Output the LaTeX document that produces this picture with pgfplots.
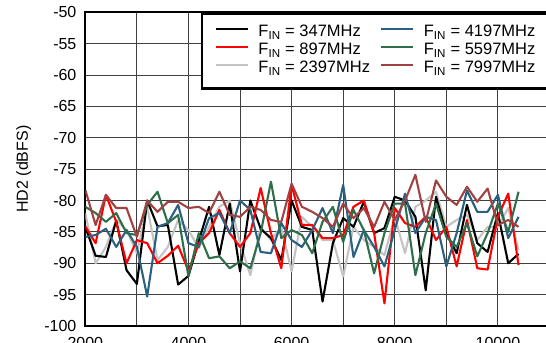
\documentclass[border=0pt]{standalone}
\usepackage{fontspec}
\setmainfont{Liberation Sans}
\usepackage{pgfplots}
\pgfplotsset{compat=1.18}
\definecolor{cblue}{HTML}{2A6080}
\definecolor{cgreen}{HTML}{2E6E4A}
\definecolor{cbrown}{HTML}{A04242}
\definecolor{cgray}{HTML}{C4C4C4}
\definecolor{cred}{HTML}{FF0000}
\begin{document}
\begin{tikzpicture}
\useasboundingbox (-85.3bp,-17bp) rectangle (460.7bp,326bp);
\clip (-85.3bp,-17bp) rectangle (460.7bp,326bp);
\begin{axis}[
  at={(0,0)}, anchor=south west,
  scale only axis, width=464.2bp, height=313.7bp,
  xmin=2000, xmax=11000, ymin=-100, ymax=-50,
  xtick={2000,4000,6000,8000,10000},
  xticklabels={2000,4000,6000,8000,10000},
  scaled x ticks=false,
  minor xtick={3000,5000,7000,9000,11000},
  ytick={-100,-95,...,-50},
  grid=both,
  major grid style={black!75, line width=0.9bp},
  minor grid style={black!75, line width=0.9bp},
  axis line style={line width=2.2bp},
  major tick length=0pt, minor tick length=0pt,
  tick label style={font=\fontsize{16bp}{19bp}\selectfont},
  /pgf/number format/assume math mode=true,
  /pgf/number format/1000 sep={},
  yticklabel style={inner sep=0pt, xshift=-8.7bp},
  xticklabel style={inner sep=0pt, yshift=-11.5bp},
  ylabel={HD2 (dBFS)},
  every axis y label/.style={at={(axis description cs:-0.116,0.5)}, rotate=90, anchor=south, inner sep=0pt, font=\fontsize{16bp}{19bp}\selectfont},
  legend columns=2,
  legend cell align=left,
  legend image code/.code={\draw[#1] (0bp,4bp) -- (32bp,4bp);},
  legend style={at={(1,1)}, anchor=north east, draw=black, line width=2.2bp,
    font=\fontsize{16.5bp}{19bp}\selectfont, inner xsep=13bp, inner ysep=12bp, row sep=3bp,
    nodes={inner sep=0pt, text height=11.5bp, text depth=3.5bp},
    /tikz/every odd column/.append style={column sep=9.7bp},
    /tikz/every even column/.append style={column sep=10bp}},
  every axis plot/.append style={line width=2.1bp, line join=round},
]
% 2397 MHz
\addplot[cgray, forget plot] coordinates {
(2000,-82) (2200,-90) (2400,-87.4) (2600,-83.1) (2800,-84.7) (3000,-88.4) (3200,-81) (3400,-89.5) (3600,-87.4) (3800,-83.1) (4000,-84.7) (4200,-87.6) (4400,-84.2) (4600,-81) (4800,-80) (5000,-86.8) (5200,-91.9) (5400,-84.2) (5600,-86.3) (5800,-84.2) (6000,-91.3) (6200,-82.6) (6400,-84.2) (6600,-86.3) (6800,-86.3) (7000,-92.1) (7200,-84.2) (7400,-86.3) (7600,-87.4) (7800,-88.7) (8000,-82.6) (8200,-88.4) (8400,-81) (8600,-80) (8800,-78.6) (9000,-84.2) (9200,-83.1) (9400,-82.3) (9600,-86.3) (9800,-84.2) (10000,-84.2) (10200,-81.2) (10400,-87.9)};
% 347 MHz
\addplot[black, forget plot] coordinates {
(2000,-84.2) (2200,-88.8) (2400,-89) (2600,-83.2) (2800,-91.1) (3000,-93.3) (3200,-80) (3400,-84.1) (3600,-83.9) (3800,-93.4) (4000,-92) (4200,-86.5) (4400,-81) (4600,-88.7) (4800,-80.5) (5000,-91.3) (5200,-80) (5400,-84.5) (5600,-86) (5800,-89.5) (6000,-80) (6200,-84.2) (6400,-84.7) (6600,-96.1) (6800,-86.8) (7000,-82.8) (7200,-84.2) (7400,-80.2) (7600,-85.2) (7800,-84.4) (8000,-79.4) (8200,-80) (8400,-82.6) (8600,-94.3) (8800,-79.4) (9000,-85.2) (9200,-88.4) (9400,-80.7) (9600,-86.8) (9800,-88.2) (10000,-82) (10200,-90) (10400,-88.5)};
% 897 MHz
\addplot[cred, forget plot] coordinates {
(2000,-84.1) (2200,-86.8) (2400,-79.1) (2600,-83.4) (2800,-90) (3000,-86.3) (3200,-86.8) (3400,-90) (3600,-88.8) (3800,-87.2) (4000,-91.2) (4200,-86.8) (4400,-85.2) (4600,-81.5) (4800,-85.2) (5000,-87.4) (5200,-85.2) (5400,-78) (5600,-85.2) (5800,-90.8) (6000,-77.5) (6200,-83.9) (6400,-83.9) (6600,-86) (6800,-86) (7000,-85.5) (7200,-81) (7400,-80) (7600,-85.2) (7800,-96.4) (8000,-81.2) (8200,-83.6) (8400,-84.2) (8600,-82.6) (8800,-86.3) (9000,-84.2) (9200,-90.5) (9400,-83.1) (9600,-90.8) (9800,-91) (10000,-82.6) (10200,-78.9) (10400,-90.3)};
% 4197 MHz
\addplot[cblue, forget plot] coordinates {
(2000,-85.8) (2200,-85.5) (2400,-84.5) (2600,-87.4) (2800,-84.7) (3000,-87.4) (3200,-95.3) (3400,-84.2) (3600,-83.6) (3800,-80.7) (4000,-86.8) (4200,-87.4) (4400,-82.8) (4600,-82) (4800,-85.2) (5000,-80) (5200,-81.5) (5400,-88.2) (5600,-88.4) (5800,-83.6) (6000,-86.3) (6200,-87.4) (6400,-84.7) (6600,-81.2) (6800,-85.2) (7000,-77.5) (7200,-89) (7400,-84.7) (7600,-87.4) (7800,-90.5) (8000,-84.7) (8200,-78.9) (8400,-85.2) (8600,-82.6) (8800,-83.1) (9000,-90.5) (9200,-85.2) (9400,-78.4) (9600,-81.8) (9800,-81.8) (10000,-79.1) (10200,-86) (10400,-82.6)};
% 5597 MHz
\addplot[cgreen, forget plot] coordinates {
(2000,-81) (2200,-82) (2400,-83.4) (2600,-82) (2800,-85.2) (3000,-85.5) (3200,-80.7) (3400,-78.6) (3600,-83.6) (3800,-82.3) (4000,-92.1) (4200,-85.2) (4400,-89.2) (4600,-88.9) (4800,-90.8) (5000,-89.7) (5200,-90.8) (5400,-85.2) (5600,-77) (5800,-86) (6000,-84.7) (6200,-85.5) (6400,-88.4) (6600,-83.4) (6800,-81) (7000,-86.6) (7200,-81.5) (7400,-84.7) (7600,-91.6) (7800,-85.2) (8000,-80.5) (8200,-80.5) (8400,-91.9) (8600,-85.2) (8800,-80.5) (9000,-85.8) (9200,-87.4) (9400,-83.6) (9600,-88.9) (9800,-85.2) (10000,-80.5) (10200,-85) (10400,-78.6)};
% 7997 MHz
\addplot[cbrown, forget plot] coordinates {
(2000,-78.3) (2200,-83.9) (2400,-79.1) (2600,-81.2) (2800,-81.2) (3000,-85.8) (3200,-80) (3400,-81.8) (3600,-80.2) (3800,-80.2) (4000,-81.2) (4200,-81) (4400,-82) (4600,-78.6) (4800,-82.3) (5000,-82.6) (5200,-81) (5400,-81.5) (5600,-83.1) (5800,-83.4) (6000,-77.3) (6200,-81) (6400,-81.8) (6600,-82.8) (6800,-84.2) (7000,-80.5) (7200,-82.8) (7400,-81.2) (7600,-84.2) (7800,-80.2) (8000,-83.1) (8200,-80) (8400,-75.9) (8600,-83.4) (8800,-76.8) (9000,-79.4) (9200,-80.7) (9400,-77.8) (9600,-80.2) (9800,-78.1) (10000,-83.9) (10200,-83.1) (10400,-84.2)};
\addlegendimage{black, line width=2.1bp}
\addlegendentry{F\textsubscript{IN} = 347MHz}
\addlegendimage{cblue, line width=2.1bp}
\addlegendentry{F\textsubscript{IN} = 4197MHz}
\addlegendimage{cred, line width=2.1bp}
\addlegendentry{F\textsubscript{IN} = 897MHz}
\addlegendimage{cgreen, line width=2.1bp}
\addlegendentry{F\textsubscript{IN} = 5597MHz}
\addlegendimage{cgray, line width=2.1bp}
\addlegendentry{F\textsubscript{IN} = 2397MHz}
\addlegendimage{cbrown, line width=2.1bp}
\addlegendentry{F\textsubscript{IN} = 7997MHz}
\end{axis}
\end{tikzpicture}
\end{document}
